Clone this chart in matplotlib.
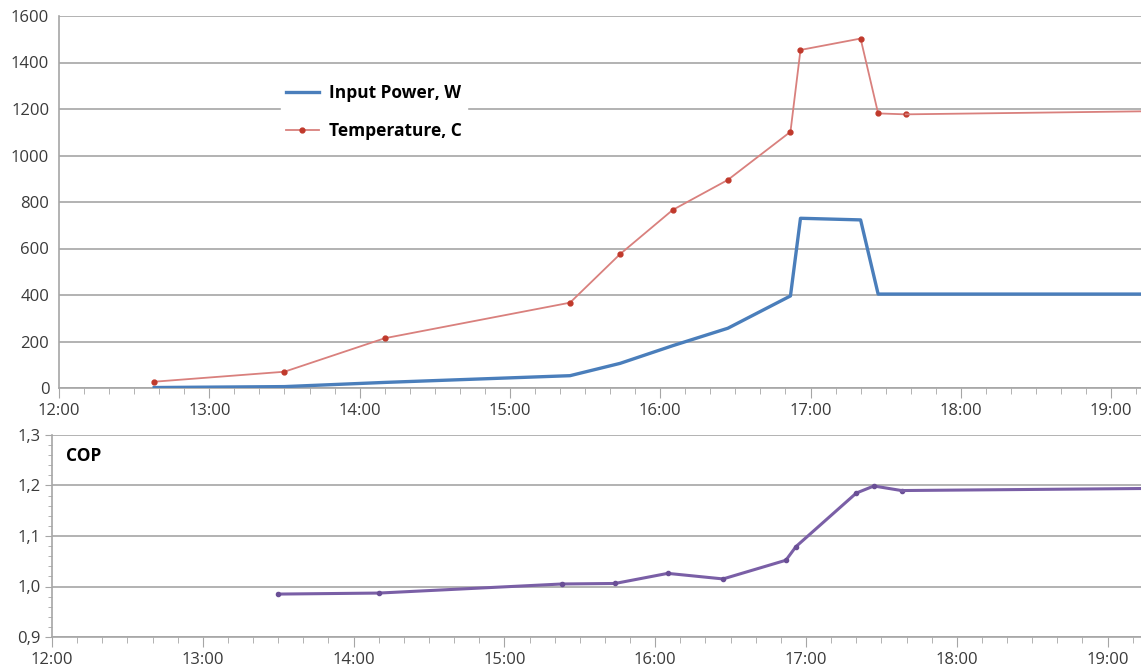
import matplotlib
matplotlib.use("Agg")
import matplotlib.pyplot as plt
from matplotlib.ticker import FuncFormatter, MultipleLocator

# times (hh:mm)
temp_times = ["12:38", "13:30", "14:10", "15:24", "15:44", "16:05", "16:27",
              "16:52", "16:56", "17:20", "17:27", "17:38", "19:12"]
temperature = [27, 70, 214, 367, 576, 766, 895, 1102, 1454, 1503, 1181, 1177, 1190]
power = [2, 6, 24, 53, 106, 182, 257, 396, 730, 723, 404, 404, 404]

cop_times = ["13:30", "14:10", "15:23", "15:44", "16:05", "16:27", "16:52",
             "16:56", "17:20", "17:27", "17:38", "19:13"]
cop = [0.985, 0.987, 1.005, 1.006, 1.026, 1.015, 1.052, 1.079, 1.185, 1.199, 1.190, 1.194]

hour_ticks = [12, 13, 14, 15, 16, 17, 18, 19]


def to_hours(t):
    h, m = t.split(":")
    return int(h) + int(m) / 60


tx = [to_hours(t) for t in temp_times]
cx = [to_hours(t) for t in cop_times]

plt.rcParams["font.family"] = ["Open Sans", "DejaVu Sans"]
grid_c = "#a6a6a6"
txt_c = "#3a3a3a"

fig = plt.figure(figsize=(11.41, 6.71), dpi=100)
ax1 = fig.add_axes([59 / 1141, 1 - 388 / 671, 1 - 59 / 1141, (388 - 16) / 671])
ax2 = fig.add_axes([52 / 1141, 1 - 637 / 671, 1 - 52 / 1141, (637 - 435) / 671])

# top chart
ax1.plot(tx, power, color="#4a7ebb", lw=2.4, label="Input Power, W", zorder=3)
ax1.plot(tx[:-1], temperature[:-1], color="#d9807d", lw=1.3, marker="o", ms=3.5,
         mfc="#c0392b", mec="#c0392b", label="Temperature, C", zorder=3)
ax1.plot(tx[-2:], temperature[-2:], color="#d9807d", lw=1.3, zorder=3)
ax1.set_ylim(0, 1600)
ax1.set_xlim(12, 12 + (1141 - 59) / 150.3)
ax1.yaxis.set_major_locator(MultipleLocator(200))

# bottom chart
ax2.plot(cx[:-1], cop[:-1], color="#7a5fa6", lw=2.2, marker="o", ms=3,
         mfc="#6a4f96", mec="#6a4f96", zorder=3)
ax2.plot(cx[-2:], cop[-2:], color="#7a5fa6", lw=2.2, zorder=3)
ax2.set_ylim(0.9, 1.3)
ax2.set_xlim(12, 12 + (1141 - 52) / 150.8)
ax2.yaxis.set_major_locator(MultipleLocator(0.1))
ax2.yaxis.set_minor_locator(MultipleLocator(0.02))
ax2.yaxis.set_major_formatter(FuncFormatter(lambda v, p: f"{v:.1f}".replace(".", ",")))
ax2.text(0.013, 0.896, "COP", transform=ax2.transAxes, fontsize=12.5,
         fontweight="bold", va="center", ha="left", color="black")

for ax in (ax1, ax2):
    ax.set_xticks(hour_ticks)
    ax.xaxis.set_minor_locator(MultipleLocator(1 / 6))
    ax.xaxis.set_major_formatter(FuncFormatter(lambda v, p: f"{int(round(v))}:00"))
    ax.grid(axis="y", color=grid_c, lw=1.2)
    ax.set_axisbelow(True)
    for s in ("top", "right"):
        ax.spines[s].set_visible(False)
    for s in ("left", "bottom"):
        ax.spines[s].set_color(grid_c)
        ax.spines[s].set_linewidth(1.2)
    ax.tick_params(axis="both", which="both", colors=grid_c, labelcolor=txt_c, labelsize=12)
    ax.tick_params(axis="x", which="major", length=7, pad=4)
    ax.tick_params(axis="x", which="minor", length=4)
    ax.tick_params(axis="y", which="major", length=5, pad=3)
    ax.tick_params(axis="y", which="minor", length=3)

ax1.tick_params(axis="y", which="major", length=0, pad=7)

leg = ax1.legend(loc="upper left", bbox_to_anchor=((272 - 59) / 1082, (388 - 70) / 372),
                 frameon=True, fancybox=False, edgecolor="white", framealpha=1,
                 prop={"weight": "bold", "size": 12.5}, handlelength=1.9,
                 handletextpad=0.6, labelspacing=1.15, borderpad=0.3)

fig.savefig("out.png", dpi=100)
